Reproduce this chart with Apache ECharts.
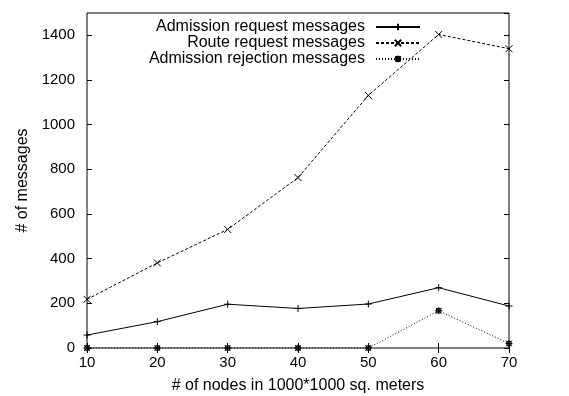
<!DOCTYPE html>
<html>
<head>
<meta charset="utf-8">
<script src="https://cdn.jsdelivr.net/npm/echarts@6/dist/echarts.min.js"></script>
<style>
html,body{margin:0;padding:0;background:#fff;}
#chart{width:569px;height:396px;}
</style>
</head>
<body>
<div id="chart"></div>
<script>
// Node counts (per 1000*1000 sq. meters)
const nodes = [10, 20, 30, 40, 50, 60, 70];
// Message counts per series
const admissionRequest = [58, 118, 196, 177, 197, 270, 188];
const routeRequest = [218, 381, 531, 763, 1131, 1404, 1340];
const admissionRejection = [0, 0, 0, 0, 0, 167, 20];
const seriesNames = ['Admission request messages', 'Route request messages', 'Admission rejection messages'];

const FONT = 'Liberation Sans, Arial, sans-serif';
const plusSym = 'path://M0,5L10,5M5,0L5,10';
const crossSym = 'path://M0,0L10,10M10,0L0,10';
const starSym = 'path://M0,5L10,5M5,0L5,10M1,1L9,9M9,1L1,9M2,2L8,2L8,8L2,8Z';

function pairs(vals) { return nodes.map((n, i) => [n, vals[i]]); }

function lineSeries(name, vals, sym, type) {
  return {
    name: name,
    type: 'line',
    data: pairs(vals),
    symbol: sym,
    symbolSize: 7,
    showSymbol: true,
    itemStyle: { color: 'none', borderColor: '#000', borderWidth: 1 },
    lineStyle: { color: '#000', width: 1, type: type },
    emphasis: { disabled: true },
    animation: false,
    z: 3
  };
}

const chart = echarts.init(document.getElementById('chart'), null, { renderer: 'canvas' });

const axisCommon = {
  type: 'value',
  axisLine: { show: false },
  axisTick: { show: true, inside: true, length: 5, lineStyle: { color: '#000', width: 1 } },
  splitLine: { show: false }
};

chart.setOption({
  backgroundColor: '#fff',
  animation: false,
  grid: { left: 87, right: 60, top: 13, bottom: 48, containLabel: false,
          outerBoundsMode: 'none',
          show: true, borderColor: '#000', borderWidth: 1 },
  legend: {
    right: 143,
    top: 14,
    orient: 'vertical',
    align: 'right',
    itemGap: 0,
    itemWidth: 44,
    itemHeight: 8,
    textStyle: { fontFamily: FONT, fontSize: 16, color: '#000', padding: [0, 6, 0, 0] },
    data: seriesNames.map(n => ({ name: n }))
  },
  xAxis: [
    Object.assign({}, axisCommon, {
      min: 10, max: 70, interval: 10, position: 'bottom',
      name: '# of nodes in 1000*1000 sq. meters',
      nameLocation: 'middle', nameGap: 30,
      nameTextStyle: { fontFamily: FONT, fontSize: 16, color: '#000' },
      axisLabel: { fontFamily: FONT, fontSize: 15, color: '#000', margin: 7 }
    }),
    Object.assign({}, axisCommon, {
      min: 10, max: 70, interval: 10, position: 'top',
      axisLabel: { show: false }
    })
  ],
  yAxis: [
    Object.assign({}, axisCommon, {
      min: 0, max: 1500, interval: 200, position: 'left',
      name: '# of messages',
      nameLocation: 'middle', nameGap: 55,
      nameTextStyle: { fontFamily: FONT, fontSize: 16, color: '#000' },
      axisLabel: { fontFamily: FONT, fontSize: 15, color: '#000', margin: 12,
                   showMaxLabel: false, formatter: v => String(v) }
    }),
    Object.assign({}, axisCommon, {
      min: 0, max: 1500, interval: 200, position: 'right',
      axisLabel: { show: false }
    })
  ],
  series: [
    lineSeries(seriesNames[0], admissionRequest, plusSym, 'solid'),
    lineSeries(seriesNames[1], routeRequest, crossSym, [3, 2]),
    lineSeries(seriesNames[2], admissionRejection, starSym, [1, 2])
  ]
});
</script>
</body>
</html>
